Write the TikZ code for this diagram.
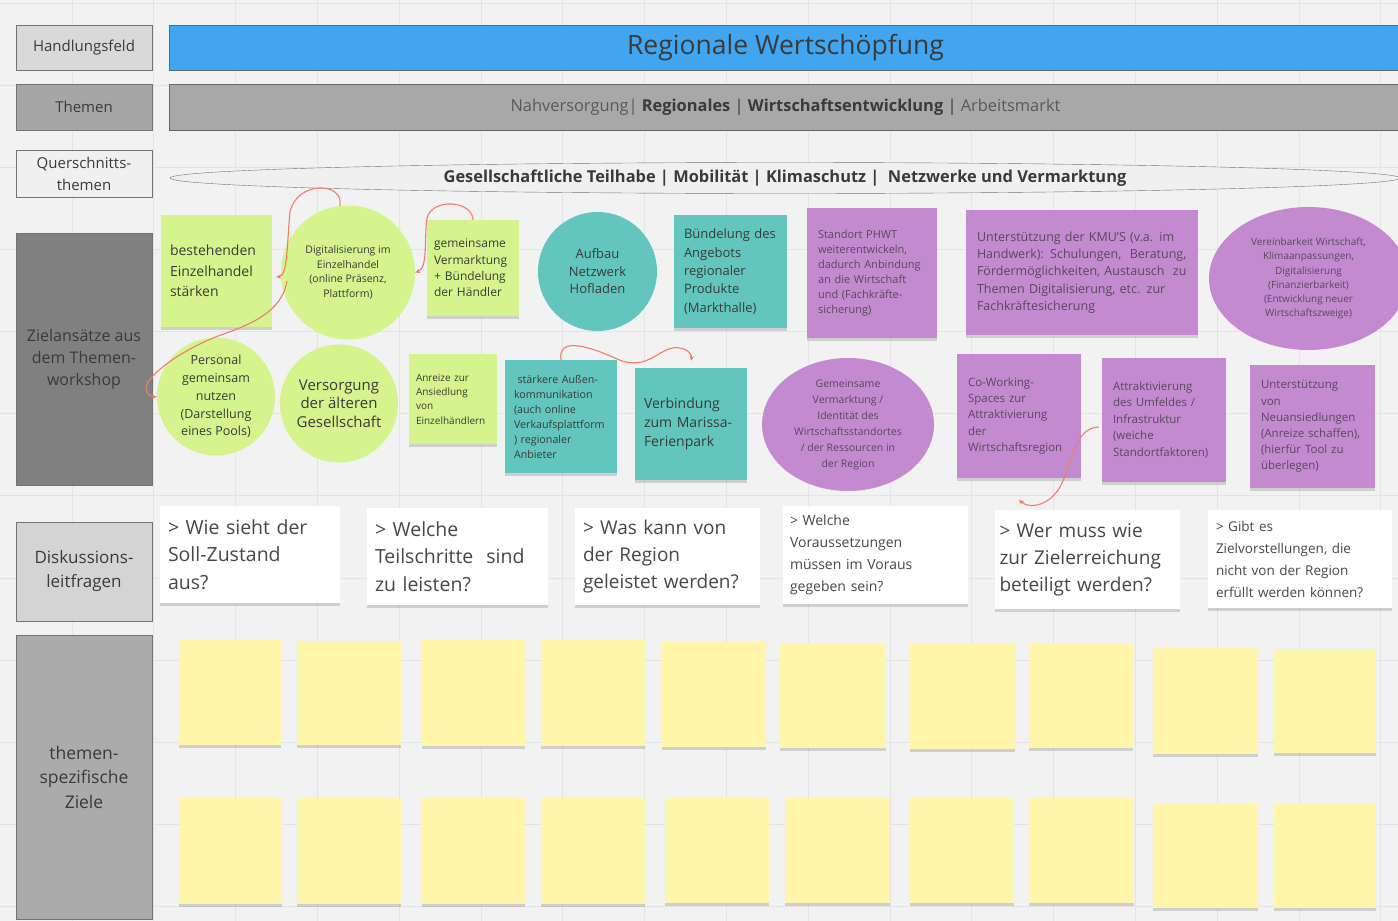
\documentclass[tikz,border=0pt]{standalone}
\usepackage{fontspec}
\setmainfont{Open Sans}
\usetikzlibrary{shapes.geometric,shadows,arrows.meta}
\definecolor{board}{HTML}{F2F2F2}
\definecolor{gridline}{HTML}{E4E4E4}
\definecolor{hfblue}{HTML}{42A5F0}
\definecolor{lime}{HTML}{D5F48E}
\definecolor{tealnote}{HTML}{62C6BE}
\definecolor{lila}{HTML}{C48ACF}
\definecolor{gelb}{HTML}{FFF6AA}
\definecolor{ink}{HTML}{3A3A3A}
\definecolor{lilaink}{HTML}{5A4760}
\definecolor{linkred}{HTML}{F07C6C}
\newcommand{\fs}[2]{\fontsize{#1}{#2}\selectfont}
\begin{document}
\begin{tikzpicture}[x=1pt,y=-1pt,
	every node/.style={text=ink, inner sep=0pt},
	rowlabel/.style={draw=black!55, line width=0.9pt, minimum width=136, align=center},
	bar/.style={draw=black!60, line width=0.9pt, minimum width=1233},
	note/.style={drop shadow={shadow xshift=0pt,shadow yshift=-3pt,opacity=0.3}},
	gnote/.style={note, fill=lime, align=left},
	tnote/.style={note, fill=tealnote, align=left},
	pnote/.style={note, fill=lila, align=left, text=lilaink},
	gcircle/.style={circle, fill=lime},
	tcircle/.style={circle, fill=tealnote},
	pellipse/.style={ellipse, fill=lila},
	ctext/.style={align=center},
	frage/.style={note, fill=white, align=left, text=black!72},
	ynote/.style={note, fill=gelb},
	link/.style={draw=linkred, line width=1.1pt, -{Stealth[length=5pt,width=4.5pt]}}
]
\useasboundingbox (0,0) rectangle (1398,921);
\fill[board] (0,0) rectangle (1398,921);
\foreach \gx in {0,...,17} \draw[gridline] ({-10+81.8*\gx},0) -- ++(0,921);
\foreach \gy in {0,...,11} \draw[gridline] (0,{3+82.1*\gy}) -- ++(1398,0);

% linke Spalte
\node[rowlabel, fill=black!15, minimum height=45, font=\fs{15}{22}] (hf) at (84,47.5) {Handlungsfeld};
\node[rowlabel, fill=black!35, minimum height=46, font=\fs{15}{22}] (th) at (84,107) {Themen};
\node[rowlabel, fill=black!6, minimum height=47, font=\fs{15}{22}] (qt) at (84,173.5) {Querschnitts-\\themen};
\node[rowlabel, fill=black!50, minimum height=252, font=\fs{16}{22}] (za) at (84,359) {Zielansätze aus\\dem Themen-\\workshop};
\node[rowlabel, fill=black!17, minimum height=99, font=\fs{17}{24}] (dl) at (84,571.5) {Diskussions-\\leitfragen};
\node[rowlabel, fill=black!33, minimum height=284, font=\fs{17.5}{24.5}] (sz) at (84,777) {themen-\\spezifische\\Ziele};

% Kopfzeilen
\node[bar, fill=hfblue, minimum height=45, font=\fs{26.5}{30}] (feld) at (785.5,47.5) {Regionale Wertschöpfung};
\node[bar, fill=black!34, minimum height=46, font=\fs{16.4}{20}] (themen) at (785.5,107)
	{\textcolor{black!65}{Nahversorgung|} \textbf{Regionales} | \textbf{Wirtschaftsentwicklung} | \textcolor{black!65}{Arbeitsmarkt}};
\node[ellipse, draw=black!55, fill=black!6, minimum width=1230, minimum height=31, font=\bfseries\fs{16.4}{20}] (quer) at (785,178)
	{Gesellschaftliche Teilhabe | Mobilität | Klimaschutz |\ \ Netzwerke und Vermarktung};

% Zielansätze, obere Reihe
\node[gnote, minimum width=111, minimum height=112, text width=93, font=\fs{14}{20.5}] (z1) at (216.5,271) {bestehenden\\Einzelhandel\\stärken};
\node[gcircle, minimum size=134, label={[ctext, font=\fs{10.5}{14.5}]center:Digitalisierung im\\Einzelhandel\\(online Präsenz,\\Plattform)}] (z2) at (348,272.5) {};
\node[gnote, minimum width=92, minimum height=96, text width=78, font=\fs{12}{16.3}] (z3) at (473,268) {gemeinsame\\Vermarktung\\+ Bündelung\\der Händler};
\node[tcircle, minimum size=119, label={[ctext, font=\fs{13}{17.5}]center:Aufbau\\Netzwerk\\Hofladen}] (z4) at (597.5,271.5) {};
\node[tnote, minimum width=113, minimum height=113, text width=93, font=\fs{13}{18.3}] (z5) at (730.5,271.5) {Bündelung des\\Angebots\\regionaler\\Produkte\\(Markthalle)};
\node[pnote, minimum width=130, minimum height=130, text width=108, font=\fs{11}{15}] (z6) at (872,273) {Standort PHWT\\weiterentwickeln,\\dadurch Anbindung\\an die Wirtschaft\\und (Fachkräfte-\\sicherung)};
\node[pnote, minimum width=232, minimum height=125, text width=210, font=\fs{12.5}{17.3}] (z7) at (1082,272.5)
	{Unterstützung der KMU'S (v.a. im\\Handwerk): Schulungen,\ \ Beratung,\\Fördermöglichkeiten, Austausch\ \ zu\\Themen Digitalisierung, etc. zur\\Fachkräftesicherung};
\node[pellipse, minimum width=199, minimum height=143, label={[ctext, text=lilaink, font=\fs{10}{14.2}]center:Vereinbarkeit Wirtschaft,\\Klimaanpassungen,\\Digitalisierung\\(Finanzierbarkeit)\\(Entwicklung neuer\\Wirtschaftszweige)}] (z8) at (1308.5,278.5) {};

% Zielansätze, untere Reihe
\node[gcircle, minimum size=118, label={[ctext, font=\fs{12.5}{17.8}]center:Personal\\gemeinsam\\nutzen\\(Darstellung\\eines Pools)}] (p1) at (216,396.5) {};
\node[gcircle, minimum size=118, label={[ctext, font=\fs{15}{18.5}]center:Versorgung\\der älteren\\Gesellschaft}] (p2) at (339,403.5) {};
\node[gnote, minimum width=88, minimum height=90, text width=74, font=\fs{10}{14.3}] (p3) at (453,399) {Anreize zur\\Ansiedlung\\von\\Einzelhändlern};
\node[tnote, minimum width=112, minimum height=113, text width=94, font=\fs{10.7}{15}] (p4) at (561,416.5) {\ stärkere Außen-\\kommunikation\\(auch online\\Verkaufsplattform\\) regionaler\\Anbieter};
\node[tnote, minimum width=112, minimum height=112, text width=94, font=\fs{14}{19}] (p5) at (691,424) {Verbindung\\zum Marissa-\\Ferienpark};
\node[pellipse, minimum width=172, minimum height=133, label={[ctext, text=lilaink, font=\fs{10.5}{16}]center:Gemeinsame\\Vermarktung /\\Identität des\\Wirtschaftsstandortes\\/ der Ressourcen in\\der Region}] (p6) at (848,424.5) {};
\node[pnote, minimum width=124, minimum height=124, text width=102, font=\fs{11.5}{16.3}] (p7) at (1019,416) {Co-Working-\\Spaces zur\\Attraktivierung\\der\\Wirtschaftsregion};
\node[pnote, minimum width=124, minimum height=124, text width=102, font=\fs{11.5}{16.5}] (p8) at (1164,420) {Attraktivierung\\des Umfeldes /\\Infrastruktur\\(weiche\\Standortfaktoren)};
\node[pnote, minimum width=125, minimum height=123, text width=103, font=\fs{11.5}{16.2}] (p9) at (1312.5,426.5) {Unterstützung\\von\\Neuansiedlungen\\(Anreize schaffen),\\(hierfür Tool zu\\überlegen)};

% Leitfragen
\node[frage, minimum width=180, minimum height=97, text width=164, font=\fs{19.5}{27.5}] (q1) at (250,554.5) {> Wie sieht der\\Soll-Zustand\\aus?};
\node[frage, minimum width=181, minimum height=97, text width=165, font=\fs{19.5}{27.5}] (q2) at (457.5,556.5) {> Welche\\Teilschritte\ \ sind\\zu leisten?};
\node[frage, minimum width=185, minimum height=97, text width=169, font=\fs{19}{27}] (q3) at (667.5,556.5) {> Was kann von\\der Region\\geleistet werden?};
\node[frage, minimum width=185, minimum height=98, text width=171, font=\fs{14}{22}] (q4) at (875.5,555) {> Welche\\Voraussetzungen\\müssen im Voraus\\gegeben sein?};
\node[frage, minimum width=185, minimum height=99, text width=176, font=\fs{19}{27}] (q5) at (1087.5,559.5) {> Wer muss wie\\zur Zielerreichung\\beteiligt werden?};
\node[frage, minimum width=184, minimum height=98, text width=168, font=\fs{13.5}{22}] (q6) at (1300,559) {> Gibt es\\Zielvorstellungen, die\\nicht von der Region\\erfüllt werden können?};

% leere gelbe Zettel
\foreach \xa/\xb/\ya/\yb [count=\i, evaluate=\xa as \w using \xb-\xa, evaluate=\ya as \h using \yb-\ya] in
	{178.6/281/640/745, 297/401/641/745, 422/525/640/746, 541/645/640/746, 662/766/642/747,
	 780/886/643/748, 910/1015/643/749, 1029/1133/643/748, 1153/1258/648/754, 1274/1376/649/753,
	 178.6/282/798/904, 297/401/798/904, 422/525/798/904, 541/645/798/904, 665/769/798/903,
	 785/890/798/903, 910/1014/798/903, 1029/1134/798/903, 1153/1258/804/908, 1274/1376/804/908}
	\node[ynote, minimum width=\w pt, minimum height=\h pt] (y\i) at ({(\xa+\xb)/2},{(\ya+\yb)/2}) {};

% Verbindungen
\coordinate (knick) at (287,281);
\draw[link] (z2.97) .. controls (345,182) and (297,180) .. (290,212) .. controls (287,240) and (288,276) .. ([shift={(4,6)}]z1.east);
\draw[link] (knick) .. controls (282,312) and (250,325) .. (218,336) .. controls (190,347) and (160,365) .. (148,382) .. controls (143,392) and (150,397) .. (p1.west);
\draw[link] (z3.north) .. controls (472,200) and (432,198) .. (427,218) .. controls (424,240) and (428,268) .. (z2.east);
\draw[link] (p4.north) .. controls (558,340) and (580,342) .. (617,359) .. controls (650,373) and (660,344) .. (680,348) .. controls (690,350) and (692,356) .. ([yshift=7pt]p5.north);
\draw[link] ([shift={(-3,7)}]p8.west) .. controls (1075,428) and (1073,460) .. (1062,483) .. controls (1052,505) and (1030,510) .. ([shift={(-68.5,-10)}]q5.north);
\end{tikzpicture}
\end{document}
